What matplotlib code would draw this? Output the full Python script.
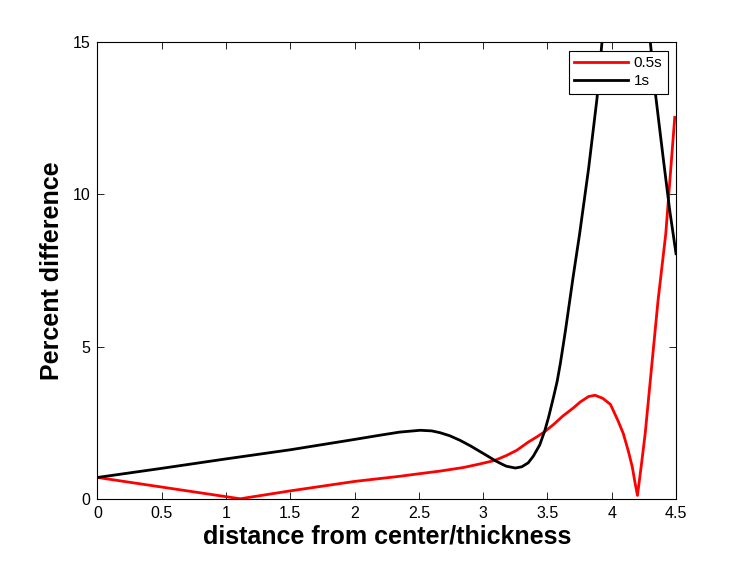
import matplotlib
matplotlib.use("Agg")
import matplotlib.pyplot as plt

# ---- data ----
x_1s = [0.00, 0.50, 1.00, 1.50, 2.00, 2.20, 2.35, 2.51, 2.60, 2.665, 2.74, 2.82,
        2.90, 2.98, 3.04, 3.09, 3.14, 3.18, 3.25, 3.30, 3.35, 3.39, 3.44, 3.48,
        3.51, 3.547, 3.575, 3.60, 3.62, 3.64, 3.677, 3.70, 3.75, 3.82, 3.885,
        3.924, 3.97, 4.02, 4.07, 4.11, 4.15, 4.20, 4.25, 4.30, 4.34, 4.40, 4.45, 4.50]
y_1s = [0.70, 1.00, 1.31, 1.61, 1.95, 2.09, 2.19, 2.25, 2.23, 2.17, 2.07, 1.92,
        1.74, 1.54, 1.39, 1.26, 1.15, 1.07, 1.01, 1.05, 1.18, 1.40, 1.77, 2.25,
        2.70, 3.34, 3.85, 4.44, 4.98, 5.53, 6.62, 7.30, 8.70, 10.85, 13.14,
        15.00, 16.90, 18.30, 19.10, 19.40, 19.25, 18.60, 17.20, 15.00, 13.30, 11.20, 9.50, 8.05]

x_05s = [0.00, 1.11, 1.50, 2.00, 2.354, 2.46, 2.665, 2.85, 2.98, 3.09, 3.18, 3.26,
         3.35, 3.42, 3.48, 3.55, 3.62, 3.70, 3.755, 3.82, 3.87, 3.93, 3.99, 4.05,
         4.09, 4.13, 4.16, 4.18, 4.20, 4.23, 4.26, 4.31, 4.36, 4.42, 4.46, 4.49]
y_05s = [0.70, 0.00, 0.26, 0.57, 0.74, 0.80, 0.91, 1.03, 1.15, 1.26, 1.42, 1.59,
         1.86, 2.04, 2.21, 2.45, 2.72, 2.98, 3.18, 3.36, 3.40, 3.30, 3.10, 2.55,
         2.14, 1.55, 1.04, 0.55, 0.11, 1.10, 2.14, 4.33, 6.51, 8.70, 10.89, 12.53]

x_ticks = [0, 0.5, 1, 1.5, 2, 2.5, 3, 3.5, 4, 4.5]
x_tick_labels = ["0", "0.5", "1", "1.5", "2", "2.5", "3", "3.5", "4", "4.5"]
y_ticks = [0, 5, 10, 15]
y_tick_labels = ["0", "5", "10", "15"]

plt.rcParams['font.family'] = ['Liberation Sans', 'DejaVu Sans']

fig = plt.figure(figsize=(7.47, 5.62), dpi=100)
ax = fig.add_axes([0.1305, 0.1125, 0.7745, 0.8125])

ax.plot(x_05s, y_05s, color=(1, 0, 0), lw=2.0, label="0.5s")
ax.plot(x_1s, y_1s, color="black", lw=2.0, label="1s")

ax.set_xlim(0, 4.5)
ax.set_ylim(0, 15)
ax.set_xticks(x_ticks)
ax.set_xticklabels(x_tick_labels)
ax.set_yticks(y_ticks)
ax.set_yticklabels(y_tick_labels)
ax.tick_params(direction='in', length=5, width=0.6, top=True, right=True,
               labelsize=11.5, pad=5)
for s in ax.spines.values():
    s.set_linewidth(0.8)

ax.set_xlabel("distance from center/thickness", fontsize=18, fontweight='bold', labelpad=3)
ax.set_ylabel("Percent difference", fontsize=18, fontweight='bold', labelpad=6)

leg = ax.legend(loc='upper right', fontsize=11, fancybox=False, framealpha=1,
                edgecolor='black', handlelength=3.5, borderaxespad=0.55,
                labelspacing=0.3, handletextpad=0.4, borderpad=0.35)
leg.get_frame().set_linewidth(0.8)

fig.savefig("out.png", dpi=100)
